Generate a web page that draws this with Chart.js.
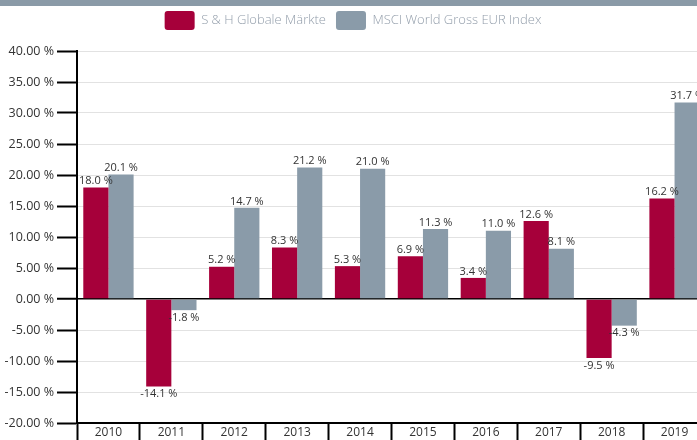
<!DOCTYPE html>
<html>
<head>
<meta charset="utf-8">
<script src="https://cdn.jsdelivr.net/npm/chart.js@4/dist/chart.umd.min.js"></script>
<style>
  html, body { margin: 0; padding: 0; overflow: hidden; background: #fff; width: 697px; height: 440px; }
  #wrap { position: relative; width: 706px; height: 440px; }
  #stripe { position: absolute; left: 0; top: 0; width: 706px; height: 6px; background: #8a9aa7; z-index: 2; }
  canvas { position: absolute; left: 0; top: 0; }
</style>
</head>
<body>
<div id="wrap">
  <div id="stripe"></div>
  <canvas id="c" width="706" height="440"></canvas>
</div>
<script>
const categories = ['2010','2011','2012','2013','2014','2015','2016','2017','2018','2019'];
const seriesNames = ['S & H Globale Märkte', 'MSCI World Gross EUR Index'];
const shValues = [18.0, -14.1, 5.2, 8.3, 5.3, 6.9, 3.4, 12.6, -9.5, 16.2];
const msciValues = [20.1, -1.8, 14.7, 21.2, 21.0, 11.3, 11.0, 8.1, -4.3, 31.7];
const yMin = -20, yMax = 40, yStep = 5;

const RED = '#a6003a';
const GRAY = '#8a9ba9';
const FONT = '"Open Sans", "DejaVu Sans", sans-serif';

const valueLabels = {
  id: 'valueLabels',
  afterDatasetsDraw(chart) {
    const ctx = chart.ctx;
    ctx.save();
    ctx.font = '11px ' + FONT;
    ctx.fillStyle = '#333';
    ctx.textAlign = 'center';
    chart.data.datasets.forEach((ds, di) => {
      const meta = chart.getDatasetMeta(di);
      meta.data.forEach((bar, i) => {
        const v = ds.data[i];
        const txt = v.toFixed(1) + ' %';
        if (v >= 0) {
          ctx.textBaseline = 'bottom';
          ctx.fillText(txt, bar.x, bar.y - 1);
        } else {
          ctx.textBaseline = 'top';
          ctx.fillText(txt, bar.x, bar.y + 2);
        }
      });
    });
    ctx.restore();
  }
};

const legendMover = {
  id: 'legendMover',
  beforeDraw(chart) {
    const lg = chart.legend;
    if (!lg) return;
    lg.top = 1;
  }
};

new Chart(document.getElementById('c'), {
  type: 'bar',
  data: {
    labels: categories,
    datasets: [
      { label: seriesNames[0], data: shValues, backgroundColor: RED, categoryPercentage: 0.8, barPercentage: 1.0 },
      { label: seriesNames[1], data: msciValues, backgroundColor: GRAY, categoryPercentage: 0.8, barPercentage: 1.0 }
    ]
  },
  options: {
    responsive: false,
    animation: false,
    devicePixelRatio: 1,
    layout: { padding: { top: 12, left: 0, right: 0, bottom: 0 } },
    plugins: {
      legend: {
        position: 'top',
        labels: {
          boxWidth: 30,
          boxHeight: 19,
          padding: 10,
          useBorderRadius: true,
          borderRadius: 3,
          color: '#929daa',
          font: { family: FONT, size: 13, weight: '300' }
        }
      },
      tooltip: { enabled: false }
    },
    scales: {
      x: {
        border: { color: '#000', width: 2 },
        grid: {
          offset: true,
          drawOnChartArea: false,
          drawTicks: true,
          tickLength: 17,
          tickColor: '#000',
          tickWidth: 2
        },
        ticks: { color: '#333', font: { family: FONT, size: 12 }, padding: -15 },
        afterFit(scale) { scale.height = 17; }
      },
      y: {
        min: yMin,
        max: yMax,
        border: { color: '#000', width: 2 },
        grid: {
          color: (c) => (c.tick && c.tick.value === 0) ? '#000' : '#e2e2e2',
          lineWidth: (c) => (c.tick && c.tick.value === 0) ? 1.5 : 1,
          tickLength: 20,
          tickColor: '#000',
          tickWidth: 2
        },
        ticks: {
          stepSize: yStep,
          color: '#333',
          padding: 3,
          font: { family: FONT, size: 12.5 },
          callback: (v) => v.toFixed(2) + ' %'
        },
        afterFit(scale) { scale.width = 77; }
      }
    }
  },
  plugins: [valueLabels, legendMover]
});
</script>
</body>
</html>
